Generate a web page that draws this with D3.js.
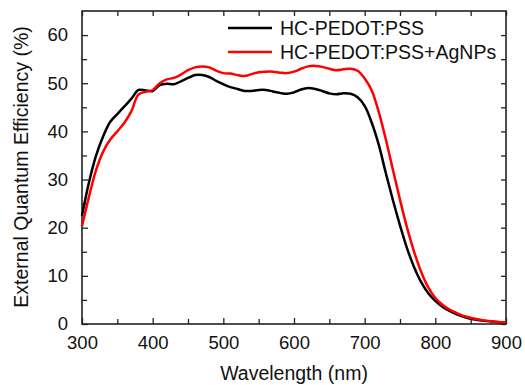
<!DOCTYPE html>
<html>
<head>
<meta charset="utf-8">
<script src="https://cdn.jsdelivr.net/npm/d3@7"></script>
<style>
body{margin:0;background:#fff;}
svg{display:block;font-family:"Liberation Sans",Arial,sans-serif;}
</style>
</head>
<body>
<script>
var wavelength = [300,310,320,330,340,350,360,370,380,390,400,410,420,430,440,450,460,470,480,490,
	500,510,520,530,540,550,560,570,580,590,600,610,620,630,640,650,660,670,680,690,
	700,710,720,730,740,750,760,770,780,790,800,810,820,830,840,850,860,870,880,890,900];

var eqePedot = [22.5,29.5,35,39,42,43.6,45.2,46.8,48.6,48.5,48.4,49.6,49.9,49.8,50.4,51.1,51.7,51.7,51.3,50.5,
	49.8,49.2,48.8,48.4,48.4,48.6,48.6,48.3,48.0,47.8,48.1,48.7,49.0,48.8,48.4,47.9,47.7,47.9,47.8,47.1,
	45.3,41.8,37.2,31.3,25.7,20.5,15.7,11.8,8.7,6.4,4.8,3.6,2.7,2.0,1.5,1.1,0.85,0.65,0.5,0.35,0.25];

var eqeAg = [20.3,26.5,32,35.8,38.3,40,41.8,44.2,47.7,48.2,48.6,50,50.8,51.1,51.8,52.7,53.3,53.5,53.3,52.6,
	52.1,52.0,51.7,51.5,51.9,52.3,52.4,52.4,52.2,52.1,52.4,53.0,53.5,53.6,53.4,53.0,52.7,52.9,53.0,52.6,
	51.0,48.5,44.0,38.3,32.0,25.8,20.0,15.0,10.8,7.6,5.4,4.0,3.0,2.3,1.7,1.3,1.0,0.75,0.55,0.4,0.3];

var seriesNames = ["HC-PEDOT:PSS","HC-PEDOT:PSS+AgNPs"];
var colors = ["#000000","#ff0000"];
var xTicks = [300,400,500,600,700,800,900];
var yTicks = [0,10,20,30,40,50,60];

var width = 525;
var height = 385;
var padding = {top:11,right:19,bottom:61,left:82};

var svg = d3.select("body")
.append("svg")
.attr("width",width)
.attr("height",height);

var xScale = d3.scaleLinear()
.domain([300,900])
.range([padding.left,width - padding.right]);

var yScale = d3.scaleLinear()
.domain([0,65])
.range([height - padding.bottom,padding.top]);

// minor ticks every 50 nm / 5 %
var xMinor = d3.range(350,900,100);
var yMinor = d3.range(5,65,10);

function styleAxis(g){
	g.select(".domain").remove();
	g.selectAll(".tick line").attr("stroke","#222").attr("stroke-width",1.3);
	g.selectAll(".tick text").attr("fill","#111").attr("font-size","18.5px").attr("font-family","Liberation Sans, Arial, sans-serif");
}

// bottom axis
svg.append("g")
.attr("transform","translate(0," + (height - padding.bottom) + ")")
.call(d3.axisBottom(xScale).tickValues(xTicks).tickSizeInner(-6).tickSizeOuter(0).tickPadding(12).tickFormat(d3.format("d")))
.call(styleAxis);

svg.append("g")
.attr("transform","translate(0," + (height - padding.bottom) + ")")
.call(d3.axisBottom(xScale).tickValues(xMinor).tickSizeInner(-5).tickSizeOuter(0).tickFormat(""))
.call(styleAxis);

// top axis
svg.append("g")
.attr("transform","translate(0," + padding.top + ")")
.call(d3.axisTop(xScale).tickValues(xTicks.concat(xMinor)).tickSizeInner(-5).tickSizeOuter(0).tickFormat(""))
.call(styleAxis);

// left axis
svg.append("g")
.attr("transform","translate(" + padding.left + ",0)")
.call(d3.axisLeft(yScale).tickValues(yTicks).tickSizeInner(-6).tickSizeOuter(0).tickPadding(14))
.call(styleAxis);

svg.append("g")
.attr("transform","translate(" + padding.left + ",0)")
.call(d3.axisLeft(yScale).tickValues(yMinor).tickSizeInner(-5).tickSizeOuter(0).tickFormat(""))
.call(styleAxis);

// right axis
svg.append("g")
.attr("transform","translate(" + (width - padding.right) + ",0)")
.call(d3.axisRight(yScale).tickValues(yTicks.concat(yMinor)).tickSizeInner(-5).tickSizeOuter(0).tickFormat(""))
.call(styleAxis);

// frame
svg.append("rect")
.attr("x",padding.left)
.attr("y",padding.top)
.attr("width",width - padding.left - padding.right)
.attr("height",height - padding.top - padding.bottom)
.attr("fill","none")
.attr("stroke","#222")
.attr("stroke-width",1.6);

var linePath = d3.line()
.x(function(d){ return xScale(d[0]); })
.y(function(d){ return yScale(d[1]); })
.curve(d3.curveCatmullRom);

var series = [eqePedot,eqeAg].map(function(vals){
	return vals.map(function(v,i){ return [wavelength[i],v]; });
});

svg.selectAll(".curve")
.data(series)
.enter()
.append("path")
.attr("class","curve")
.attr("d",function(d){ return linePath(d); })
.attr("fill","none")
.attr("stroke-width",2.5)
.attr("stroke-linejoin","round")
.attr("stroke",function(d,i){ return colors[i]; });

// legend
var legend = svg.selectAll(".legend")
.data(seriesNames)
.enter()
.append("g")
.attr("class","legend")
.attr("transform",function(d,i){ return "translate(228," + (28 + i * 24) + ")"; });

legend.append("line")
.attr("x1",0)
.attr("x2",44)
.attr("y1",0)
.attr("y2",0)
.attr("stroke-width",2.5)
.attr("stroke",function(d,i){ return colors[i]; });

legend.append("text")
.attr("x",52)
.attr("y",7)
.attr("font-size","19.5px")
.attr("fill","#111")
.text(function(d){ return d; });

// axis titles
svg.append("text")
.attr("x",(padding.left + width - padding.right) / 2)
.attr("y",380)
.attr("text-anchor","middle")
.attr("font-size","19.5px")
.attr("fill","#111")
.text("Wavelength (nm)");

svg.append("text")
.attr("transform","translate(28," + 167 + ") rotate(-90)")
.attr("text-anchor","middle")
.attr("font-size","19.5px")
.attr("fill","#111")
.text("External Quantum Efficiency (%)");
</script>
</body>
</html>
